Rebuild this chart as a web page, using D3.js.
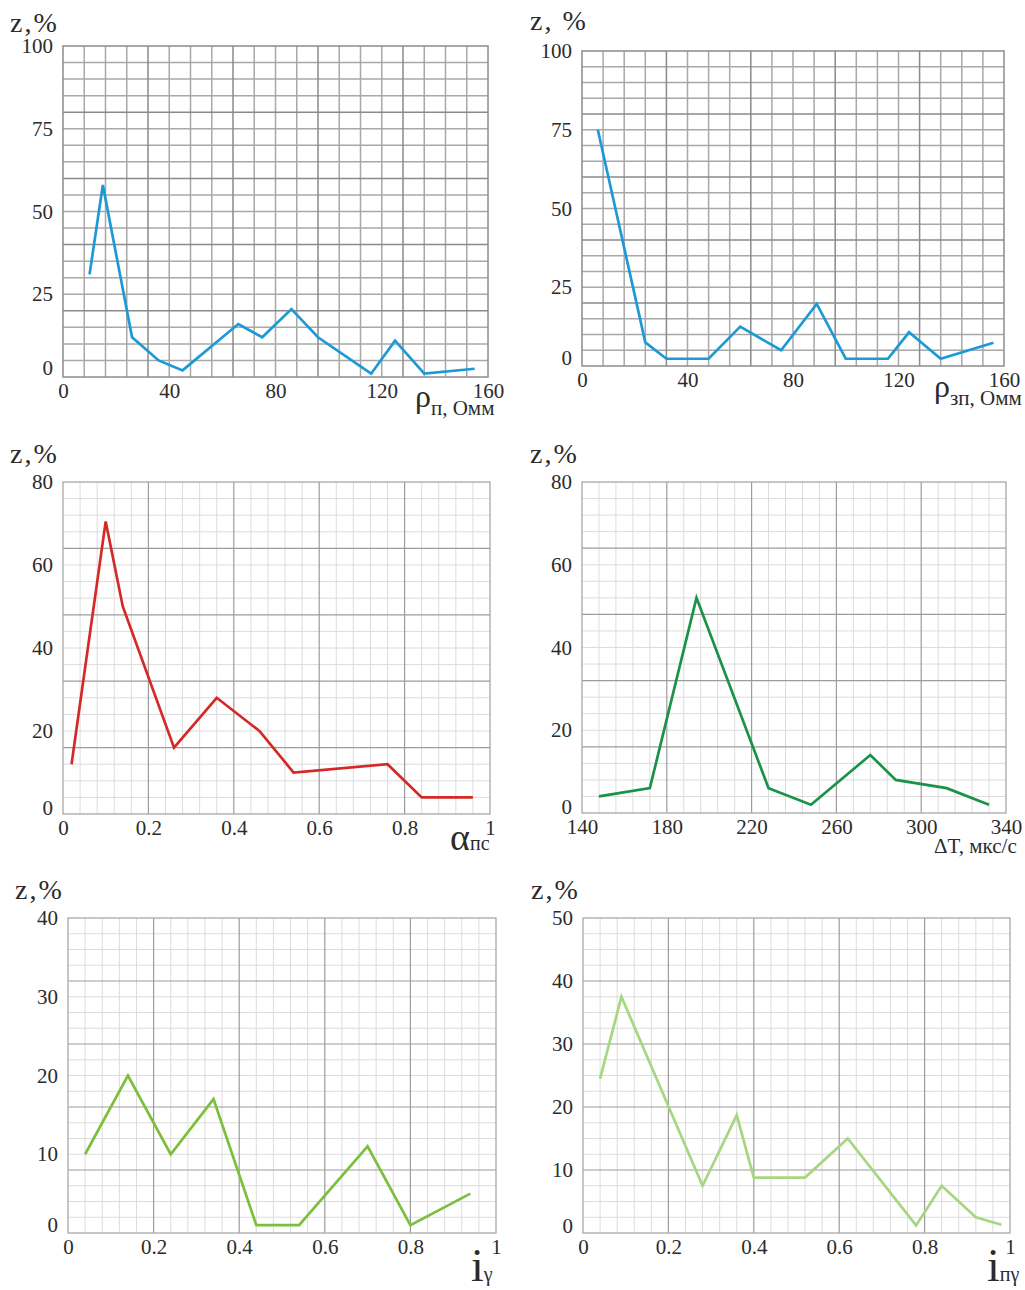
<!DOCTYPE html>
<html>
<head>
<meta charset="utf-8">
<script src="https://cdn.jsdelivr.net/npm/d3@7"></script>
<style>
  html, body { margin: 0; padding: 0; background: #fff; }
  svg { display: block; }
  svg text { font-family: "Liberation Serif", "Times New Roman", Times, serif; fill: #2b2b2b; }
</style>
</head>
<body>
<svg id="chart" width="1025" height="1290"></svg>
<script>
// ---- data ----------------------------------------------------------
// z, % versus rho_p (Ohm·m)
const rhoPX = [10, 15, 26, 36, 45, 66, 75, 86, 96, 116, 125, 136, 155];
const rhoPZ = [31, 58, 12, 5, 2, 16, 12, 20.5, 12, 1, 11, 1, 2.5];
// z, % versus rho_zp (Ohm·m)
const rhoZPX = [6, 24, 32, 48, 60, 75.5, 89, 100, 116, 124, 136, 156];
const rhoZPZ = [75, 7.5, 2.3, 2.3, 12.5, 5, 19.7, 2.3, 2.3, 10.7, 2.3, 7.4];
// z, % versus alpha_ps
const alphaX = [0.02, 0.10, 0.14, 0.26, 0.36, 0.46, 0.54, 0.76, 0.84, 0.96];
const alphaZ = [12, 70.5, 50, 16, 28, 20, 10, 12, 4, 4];
// z, % versus delta T (us/m)
const dtX = [148, 172, 194, 228, 248, 276, 288, 312, 332];
const dtZ = [4, 6, 52, 6, 2, 14, 8, 6, 2];
// z, % versus i_gamma
const igX = [0.04, 0.14, 0.24, 0.34, 0.44, 0.54, 0.70, 0.80, 0.94];
const igZ = [10, 20, 10, 17, 1, 1, 11, 1, 5];
// z, % versus i_ngamma
const ingX = [0.04, 0.09, 0.28, 0.36, 0.40, 0.52, 0.62, 0.78, 0.84, 0.92, 0.98];
const ingZ = [24.5, 37.5, 7.5, 18.7, 8.8, 8.8, 15, 1.2, 7.5, 2.5, 1.3];

// tick labels
const rhoTicksX = [0, 40, 80, 120, 160];
const rhoTicksY = [0, 25, 50, 75, 100];
const unitTicksX = [0, 0.2, 0.4, 0.6, 0.8, 1];
const dtTicksX = [140, 180, 220, 260, 300, 340];
const z80TicksY = [0, 20, 40, 60, 80];
const z40TicksY = [0, 10, 20, 30, 40];
const z50TicksY = [0, 10, 20, 30, 40, 50];

// ---- panels --------------------------------------------------------
const panels = [
  { box: [63, 46, 488, 377], xDom: [0, 160], yDom: [0, 100],
    xTicks: rhoTicksX, yTicks: rhoTicksY, xs: rhoPX, zs: rhoPZ,
    gx: [8, 32], gy: [5, 20], style: "coarse", color: "#1c9ad6", zeroShift: -9,
    yTitle: { text: "z,%", x: 10, y: 32 },
    xTitle: { x: 415, y: 407, parts: [["ρ", 32, 0], ["п, Омм", 21, 8]] } },
  { box: [582, 51, 1004, 366], xDom: [0, 160], yDom: [0, 100],
    xTicks: rhoTicksX, yTicks: rhoTicksY, xs: rhoZPX, zs: rhoZPZ,
    gx: [8, 32], gy: [5, 20], style: "coarse", color: "#1c9ad6", zeroShift: -8,
    yTitle: { text: "z, %", x: 530, y: 30 },
    xTitle: { x: 934, y: 397, parts: [["ρ", 32, 0], ["зп, Омм", 21, 8]] } },
  { box: [63, 482, 490, 814], xDom: [0, 1], yDom: [0, 80],
    xTicks: unitTicksX, yTicks: z80TicksY, xs: alphaX, zs: alphaZ,
    gx: [0.04, 0.2], gy: [4, 16], style: "fine", color: "#d42a27", zeroShift: -6,
    yTitle: { text: "z,%", x: 10, y: 463 },
    xTitle: { x: 450, y: 850, parts: [["α", 38, 0], ["пс", 20, 0]] } },
  { box: [582, 482, 1006, 813], xDom: [140, 340], yDom: [0, 80],
    xTicks: dtTicksX, yTicks: z80TicksY, xs: dtX, zs: dtZ,
    gx: [8, 40], gy: [4, 16], style: "fine", color: "#1a9249", zeroShift: -6,
    yTitle: { text: "z,%", x: 530, y: 463 },
    xTitle: { x: 934, y: 853, parts: [["ΔT, мкс/с", 21, 0]] } },
  { box: [68, 918, 496, 1233], xDom: [0, 1], yDom: [0, 40],
    xTicks: unitTicksX, yTicks: z40TicksY, xs: igX, zs: igZ,
    gx: [0.04, 0.2], gy: [2, 8], style: "fine", color: "#7bbf3c", zeroShift: -8,
    yTitle: { text: "z,%", x: 15, y: 899 },
    xTitle: { x: 471, y: 1281, parts: [["i", 46, 0], ["γ", 20, 0]] } },
  { box: [583, 918, 1010, 1233], xDom: [0, 1], yDom: [0, 50],
    xTicks: unitTicksX, yTicks: z50TicksY, xs: ingX, zs: ingZ,
    gx: [0.04, 0.2], gy: [2.5, 10], style: "fine", color: "#a7d682", zeroShift: -7,
    yTitle: { text: "z,%", x: 531, y: 899 },
    xTitle: { x: 987, y: 1281, parts: [["i", 46, 0], ["пγ", 20, 0]] } }
];

const svg = d3.select("#chart");
const SERIF = "Liberation Serif, Times New Roman, Times, serif";

const gridStyles = {
  coarse: { minor: "#a8a8a8", major: "#8a8a8a", wMinor: 1.5, wMajor: 1.5 },
  fine:   { minor: "#dcdcdc", major: "#9c9c9c", wMinor: 1, wMajor: 1.2 }
};

function gridValues(dom, step) {
  const n = Math.round((dom[1] - dom[0]) / step);
  return d3.range(n + 1).map(i => ({ v: dom[0] + i * step, i }));
}

panels.forEach(p => {
  const [L, T, R, B] = p.box;
  const x = d3.scaleLinear().domain(p.xDom).range([L, R]);
  const y = d3.scaleLinear().domain(p.yDom).range([B, T]);
  const gs = gridStyles[p.style];
  const g = svg.append("g");

  // grid: minor lines first, major on top
  const xMajorEvery = Math.round(p.gx[1] / p.gx[0]);
  const yMajorEvery = Math.round(p.gy[1] / p.gy[0]);
  const xg = gridValues(p.xDom, p.gx[0]);
  const yg = gridValues(p.yDom, p.gy[0]);
  const inner = (arr) => arr.filter(d => d.i > 0 && d.i < arr.length - 1);

  [false, true].forEach(major => {
    g.append("g").selectAll("line")
      .data(inner(xg).filter(d => (d.i % xMajorEvery === 0) === major))
      .join("line")
      .attr("x1", d => x(d.v)).attr("x2", d => x(d.v))
      .attr("y1", T).attr("y2", B)
      .attr("stroke", major ? gs.major : gs.minor)
      .attr("stroke-width", major ? gs.wMajor : gs.wMinor);
    g.append("g").selectAll("line")
      .data(inner(yg).filter(d => (d.i % yMajorEvery === 0) === major))
      .join("line")
      .attr("y1", d => y(d.v)).attr("y2", d => y(d.v))
      .attr("x1", L).attr("x2", R)
      .attr("stroke", major ? gs.major : gs.minor)
      .attr("stroke-width", major ? gs.wMajor : gs.wMinor);
  });

  // frame
  g.append("rect")
    .attr("x", L).attr("y", T).attr("width", R - L).attr("height", B - T)
    .attr("fill", "none")
    .attr("stroke", p.style === "coarse" ? "#8c8c8c" : "#a8a8a8")
    .attr("stroke-width", p.style === "coarse" ? 1.5 : 1.3);

  // axes (labels only)
  const fmt = v => String(v);
  const ax = g.append("g").attr("transform", `translate(0,${B})`)
    .call(d3.axisBottom(x).tickValues(p.xTicks).tickFormat(fmt).tickSize(0).tickPadding(6));
  const ay = g.append("g").attr("transform", `translate(${L},0)`)
    .call(d3.axisLeft(y).tickValues(p.yTicks).tickFormat(fmt).tickSize(0).tickPadding(10));
  [ax, ay].forEach(a => {
    a.attr("font-family", SERIF).attr("font-size", 21);
    a.select(".domain").remove();
    a.selectAll("text")
      .attr("font-family", SERIF)
      .attr("font-size", 21)
      .attr("fill", "#2b2b2b");
  });
  ay.selectAll(".tick").filter(d => d === 0)
    .select("text").attr("y", p.zeroShift);

  // data line
  const pts = p.xs.map((v, i) => [v, p.zs[i]]);
  g.append("path")
    .datum(pts)
    .attr("d", d3.line().x(d => x(d[0])).y(d => y(d[1])))
    .attr("fill", "none")
    .attr("stroke", p.color)
    .attr("stroke-width", 2.7)
    .attr("stroke-linejoin", "miter");

  // titles
  g.append("text")
    .attr("x", p.yTitle.x).attr("y", p.yTitle.y)
    .attr("font-family", SERIF)
    .attr("font-size", 28)
    .attr("letter-spacing", 2)
    .text(p.yTitle.text);

  const t = g.append("text").attr("x", p.xTitle.x).attr("y", p.xTitle.y)
    .attr("font-family", SERIF);
  let prevShift = 0;
  p.xTitle.parts.forEach(([s, size, shift]) => {
    t.append("tspan")
      .attr("dy", shift - prevShift)
      .attr("font-size", size)
      .text(s);
    prevShift = shift;
  });
});
</script>
</body>
</html>
